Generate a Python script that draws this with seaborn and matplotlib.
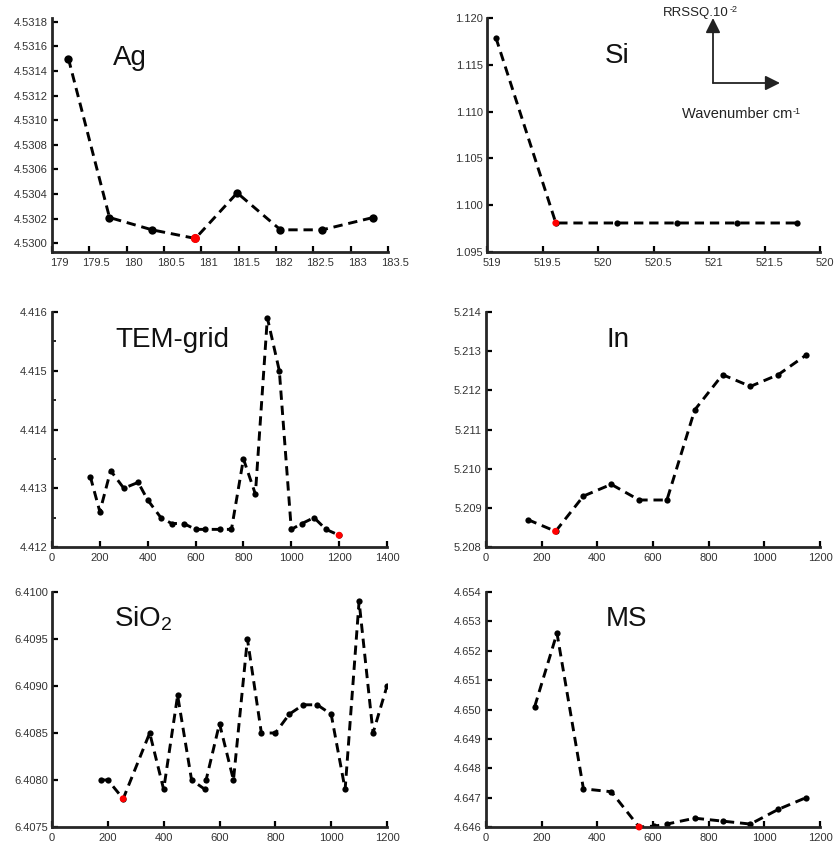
import numpy as np
import matplotlib
matplotlib.use("Agg")
import matplotlib.pyplot as plt
import matplotlib.transforms as mtransforms
from matplotlib.ticker import MultipleLocator, FormatStrFormatter, FixedLocator, FixedFormatter
import seaborn as sns

# ---- data ----
ag_x = [179.22, 179.77, 180.34, 180.92, 181.48, 182.06, 182.62, 183.30]
ag_y = [4.53150, 4.53021, 4.53011, 4.53004, 4.53041, 4.53011, 4.53011, 4.53021]

si_x = [519.08, 519.62, 520.17, 520.71, 521.25, 521.79]
si_y = [1.1179, 1.0981, 1.0981, 1.0981, 1.0981, 1.0981]

tem_x = [160, 200, 245, 300, 360, 400, 455, 500, 550, 600, 640, 700, 750,
         800, 850, 900, 950, 1000, 1045, 1095, 1145, 1200]
tem_y = [4.4132, 4.4126, 4.4133, 4.4130, 4.4131, 4.4128, 4.4125, 4.4124,
         4.4124, 4.4123, 4.4123, 4.4123, 4.4123, 4.4135, 4.4129, 4.4159,
         4.4150, 4.4123, 4.4124, 4.4125, 4.4123, 4.4122]

in_x = [150, 250, 350, 450, 550, 650, 750, 850, 950, 1050, 1150]
in_y = [5.2087, 5.2084, 5.2093, 5.2096, 5.2092, 5.2092, 5.2115, 5.2124,
        5.2121, 5.2124, 5.2129]

sio2_x = [175, 200, 255, 350, 400, 450, 500, 548, 552, 600, 650, 700, 750,
          800, 850, 900, 950, 1000, 1050, 1100, 1150, 1200]
sio2_y = [6.4080, 6.4080, 6.4078, 6.4085, 6.4079, 6.4089, 6.4080, 6.4079,
          6.4080, 6.4086, 6.4080, 6.4095, 6.4085, 6.4085, 6.4087, 6.4088,
          6.4088, 6.4087, 6.4079, 6.4099, 6.4085, 6.4090]

ms_x = [175, 255, 350, 450, 550, 605, 650, 750, 850, 950, 1050, 1150]
ms_y = [4.6501, 4.6526, 4.6473, 4.6472, 4.6460, 4.64603, 4.6461, 4.6463,
        4.6462, 4.6461, 4.6466, 4.6470]

si_ticklabels = ['519', '519.5', '520', '520.5', '521', '521.5', '520']

sns.set_style("ticks")
plt.rcParams['font.family'] = ['Liberation Sans', 'DejaVu Sans']
plt.rcParams['mathtext.fontset'] = 'custom'
plt.rcParams['mathtext.rm'] = 'Liberation Sans'
plt.rcParams['mathtext.it'] = 'Liberation Sans:italic'

W, H = 837, 848
fig = plt.figure(figsize=(W / 100, H / 100), dpi=100)


def make_ax(left, top, right, bottom):
    return fig.add_axes([left / W, 1 - bottom / H, (right - left) / W, (bottom - top) / H])


def shift_xlabels(ax, dx_px):
    off = mtransforms.ScaledTranslation(dx_px / 100, 0, fig.dpi_scale_trans)
    for lab in ax.get_xticklabels():
        lab.set_transform(lab.get_transform() + off)


def draw(ax, x, y, ms, title, tx, ty):
    sns.lineplot(x=x, y=y, ax=ax, color='black', marker='o', markersize=ms,
                 markeredgewidth=0, linewidth=2.1, linestyle=(0, (3.2, 2.0)),
                 sort=False, estimator=None)
    i = int(np.argmin(y))
    sns.scatterplot(x=[x[i]], y=[y[i]], ax=ax, color='red', s=(ms + 0.5) ** 2,
                    edgecolor='none', zorder=4, clip_on=False)
    ax.text(tx, ty, title, transform=ax.transAxes, fontsize=20, va='baseline',
            ha='left', color='#111')
    sns.despine(ax=ax)
    for s in ['left', 'bottom']:
        ax.spines[s].set_linewidth(2.0)
    ax.tick_params(direction='in', length=4, width=1.6, color='black',
                   labelsize=8, labelcolor='#333', pad=3)
    ax.tick_params(axis='x', pad=4)
    ax.tick_params(which='minor', direction='in', length=3, width=1.4)
    ax.set_xlabel('')
    ax.set_ylabel('')


# Ag
ax = make_ax(52, 18, 388, 252)
draw(ax, ag_x, ag_y, 6, 'Ag', 0.18, 0.80)
ax.set_xlim(179, 183.5)
ax.set_ylim(4.52993, 4.53183)
ax.xaxis.set_major_locator(MultipleLocator(0.5))
ax.xaxis.set_major_formatter(FormatStrFormatter('%g'))
ax.yaxis.set_major_locator(MultipleLocator(0.0002))
ax.yaxis.set_major_formatter(FormatStrFormatter('%.4f'))
shift_xlabels(ax, 7)

# Si
ax = make_ax(487, 18, 820, 252)
draw(ax, si_x, si_y, 4.5, 'Si', 0.354, 0.808)
ax.set_xlim(519, 522)
ax.set_ylim(1.095, 1.120)
ax.xaxis.set_major_locator(FixedLocator(np.arange(519, 522.01, 0.5)))
ax.xaxis.set_major_formatter(FixedFormatter(si_ticklabels))
ax.yaxis.set_major_locator(MultipleLocator(0.005))
ax.yaxis.set_major_formatter(FormatStrFormatter('%.3f'))
shift_xlabels(ax, 5)

# TEM-grid
ax = make_ax(52, 312, 387, 547)
draw(ax, tem_x, tem_y, 4.5, 'TEM-grid', 0.188, 0.851)
ax.set_xlim(0, 1400)
ax.set_ylim(4.412, 4.416)
ax.xaxis.set_major_locator(MultipleLocator(200))
ax.yaxis.set_major_locator(MultipleLocator(0.001))
ax.yaxis.set_minor_locator(MultipleLocator(0.0005))
ax.yaxis.set_major_formatter(FormatStrFormatter('%.3f'))

# In
ax = make_ax(486, 312, 820, 547)
draw(ax, in_x, in_y, 4.5, 'In', 0.36, 0.851)
ax.set_xlim(0, 1200)
ax.set_ylim(5.208, 5.214)
ax.xaxis.set_major_locator(MultipleLocator(200))
ax.yaxis.set_major_locator(MultipleLocator(0.001))
ax.yaxis.set_major_formatter(FormatStrFormatter('%.3f'))

# SiO2
ax = make_ax(52, 592, 387, 827)
draw(ax, sio2_x, sio2_y, 4.5, r'SiO$_\mathrm{2}$', 0.185, 0.855)
ax.set_xlim(0, 1200)
ax.set_ylim(6.4075, 6.4100)
ax.xaxis.set_major_locator(MultipleLocator(200))
ax.yaxis.set_major_locator(MultipleLocator(0.0005))
ax.yaxis.set_major_formatter(FormatStrFormatter('%.4f'))

# MS
ax = make_ax(486, 592, 820, 827)
draw(ax, ms_x, ms_y, 4.5, 'MS', 0.36, 0.855)
ax.set_xlim(0, 1200)
ax.set_ylim(4.646, 4.654)
ax.xaxis.set_major_locator(MultipleLocator(200))
ax.yaxis.set_major_locator(MultipleLocator(0.001))
ax.yaxis.set_major_formatter(FormatStrFormatter('%.3f'))

# axis-meaning legend in the Si panel
corner = (713 / W, 1 - 83 / H)
arrow = dict(arrowstyle='-|>', lw=1.3, color='#222', mutation_scale=22,
             shrinkA=0, shrinkB=0)
plt.annotate('', xy=(713 / W, 1 - 18 / H), xytext=corner,
             xycoords='figure fraction', textcoords='figure fraction',
             arrowprops=arrow)
plt.annotate('', xy=(780 / W, 1 - 83 / H), xytext=corner,
             xycoords='figure fraction', textcoords='figure fraction',
             arrowprops=arrow)
t1 = fig.text(663 / W, 1 - 16 / H, 'RRSSQ.10', fontsize=9.5,
              color='#222', va='baseline')
t2 = fig.text(682 / W, 1 - 118 / H, 'Wavenumber cm', fontsize=10.5,
              color='#222', va='baseline')
fig.canvas.draw()
for t, sup, dy in [(t1, '-2', 5), (t2, '-1', 5)]:
    bb = t.get_window_extent()
    fig.text(bb.x1 / W + 0.5 / W, (bb.y0 + dy + 2) / H, sup, fontsize=6.5,
             color='#222', va='baseline')

fig.savefig('out.png', dpi=100)
